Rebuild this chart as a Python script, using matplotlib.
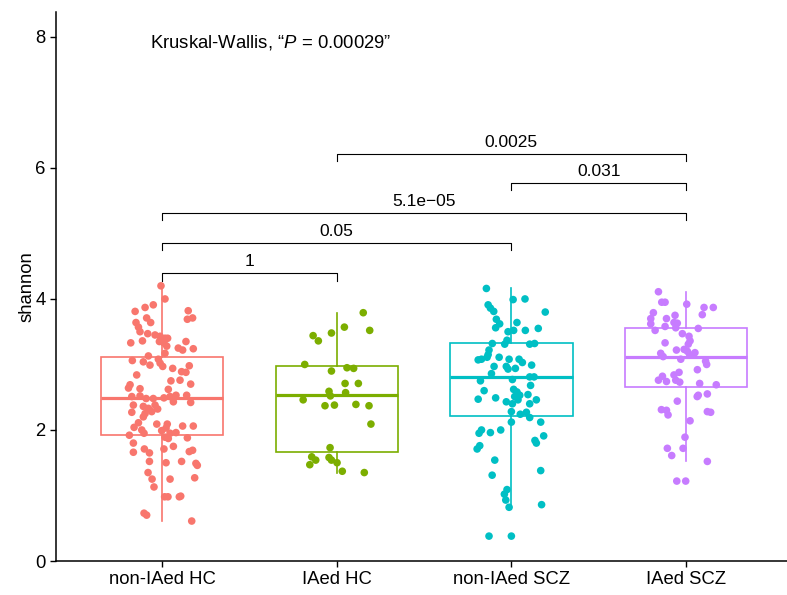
import matplotlib
matplotlib.use("Agg")
import matplotlib.pyplot as plt

plt.rcParams["font.family"] = ["Liberation Sans", "DejaVu Sans"]
plt.rcParams["mathtext.fontset"] = "custom"
plt.rcParams["mathtext.rm"] = "Liberation Sans"
plt.rcParams["mathtext.it"] = "Liberation Sans:italic"

groups = ["non-IAed HC", "IAed HC", "non-IAed SCZ", "IAed SCZ"]
colors = ["#F8766D", "#7CAE00", "#00BFC4", "#C77CFF"]

# shannon values, with the horizontal jitter of each dot
hc_non_y = [4.20, 4.00, 3.87, 3.91, 3.81, 3.82, 3.69, 3.71, 3.64, 3.57, 3.50, 3.71, 3.64,
            3.47, 3.45, 3.43, 3.40, 3.40, 3.35, 3.33, 3.28, 3.36, 3.33, 3.35,
            3.25, 3.22, 3.24, 3.17, 3.13, 3.04, 3.08, 2.99, 3.02, 3.06, 2.97, 2.94, 2.98, 2.89, 2.88,
            2.84, 2.75, 2.76, 2.70, 2.69, 2.64, 2.63, 2.62, 2.51, 2.52, 2.48, 2.48, 2.49, 2.51, 2.53,
            2.53, 2.43, 2.42, 2.38, 2.36, 2.33, 2.38, 2.32, 2.28, 2.25, 2.27, 2.20,
            2.11, 2.04, 2.09, 2.09, 2.03, 2.06, 2.06, 2.00, 1.95, 1.99, 1.95, 1.96, 1.89, 1.87, 1.92, 1.88,
            1.80, 1.75, 1.71, 1.65, 1.71, 1.66, 1.67, 1.69, 1.52, 1.50, 1.52, 1.49, 1.46,
            1.35, 1.25, 1.25, 1.27, 1.13, 0.98, 0.98, 0.98, 0.99, 0.73, 0.70, 0.61]
hc_non_dx = [-0.006, 0.017, -0.097, -0.050, -0.154, 0.150, 0.145, 0.175, -0.149, -0.135, -0.126, -0.088, -0.065,
             -0.082, -0.040, -0.011, 0.017, 0.032, -0.015, 0.011, 0.027, -0.112, -0.179, 0.137,
             0.093, 0.118, 0.179, 0.017, -0.078, -0.107, -0.021, -0.069, -0.011, -0.170, 0.004, 0.061, 0.156, 0.112, 0.137,
             -0.145, 0.051, 0.103, 0.164, -0.183, -0.192, -0.126, 0.036, -0.173, -0.126, -0.091, -0.050, 0.011, 0.046, 0.080,
             0.141, 0.065, 0.164, -0.164, -0.107, -0.078, -0.040, -0.025, -0.059, -0.097, -0.173, -0.107,
             -0.135, -0.160, -0.030, 0.030, 0.023, 0.118, 0.179, -0.116, -0.103, -0.002, 0.046, 0.080, 0.017, 0.036, -0.187, 0.145,
             -0.164, 0.065, -0.101, -0.072, 0.011, -0.164, 0.156, 0.175, -0.072, 0.023, 0.112, 0.194, 0.202,
             -0.080, -0.057, 0.046, 0.187, -0.046, 0.015, 0.034, 0.099, 0.107, -0.103, -0.088, 0.170]

hc_ia_y = [3.79, 3.57, 3.52, 3.44, 3.48, 3.36, 3.00, 2.90, 2.95, 2.94, 2.71, 2.71, 2.59, 2.57, 2.52,
           2.46, 2.37, 2.38, 2.39, 2.37, 2.09, 1.73, 1.59, 1.54, 1.47, 1.58, 1.54, 1.50, 1.37, 1.35]
hc_ia_dx = [0.152, 0.044, 0.189, -0.135, -0.030, -0.105, -0.183, -0.030, 0.059, 0.097, 0.048, 0.124, -0.044, 0.051, -0.036,
            -0.192, -0.067, -0.013, 0.110, 0.185, 0.196, -0.038, -0.143, -0.120, -0.154, -0.044, -0.030, 0.002, 0.032, 0.158]

scz_non_y = [4.16, 3.99, 4.00, 3.91, 3.86, 3.81, 3.80, 3.69, 3.62, 3.64, 3.56, 3.50, 3.52, 3.52, 3.55,
             3.37, 3.31, 3.32, 3.22, 3.31, 3.32, 3.15, 3.07, 3.08, 3.11, 3.11, 3.08, 3.08, 3.03, 2.99,
             2.97, 2.97, 2.93, 2.94, 2.86, 2.81, 2.81, 2.75, 2.77, 2.68, 2.60, 2.62, 2.58, 2.53, 2.54,
             2.51, 2.47, 2.49, 2.43, 2.40, 2.46, 2.46, 2.40, 2.28, 2.24, 2.27, 2.19, 2.12, 2.12,
             2.00, 1.95, 1.96, 2.00, 1.91, 1.84, 1.80, 1.76, 1.71, 1.54, 1.38, 1.31,
             1.09, 1.02, 0.93, 0.82, 0.86, 0.38, 0.38]
scz_non_dx = [-0.143, 0.010, 0.078, -0.133, -0.120, -0.101, 0.194, -0.086, -0.067, 0.032, -0.090, -0.019, 0.013, 0.080, 0.154,
              -0.025, -0.038, -0.109, -0.128, 0.105, 0.133, -0.133, -0.190, -0.171, -0.139, -0.070, -0.013, 0.044, 0.063, 0.116,
              -0.099, -0.029, -0.019, 0.023, -0.114, 0.105, 0.130, -0.177, 0.006, 0.110, -0.156, 0.013, 0.032, 0.048, 0.095,
              0.019, -0.190, -0.090, -0.029, 0.006, 0.038, 0.143, 0.105, 0.000, 0.051, 0.086, 0.105, 0.000, 0.168,
              -0.171, -0.185, -0.120, -0.061, 0.185, 0.135, 0.143, -0.181, -0.196, -0.095, 0.168, -0.110,
              -0.025, -0.040, -0.032, -0.013, 0.173, -0.128, 0.000]

scz_ia_y = [4.11, 3.95, 3.95, 3.92, 3.87, 3.87, 3.79, 3.70, 3.70, 3.75, 3.76, 3.62, 3.58, 3.64, 3.63, 3.56,
            3.52, 3.55, 3.47, 3.43, 3.36, 3.31, 3.33, 3.17, 3.12, 3.22, 3.23, 3.20, 3.18, 3.15, 3.08,
            3.05, 3.00, 2.92, 2.82, 2.76, 2.74, 2.84, 2.88, 2.76, 2.73, 2.71, 2.69, 2.53, 2.51, 2.55,
            2.44, 2.31, 2.30, 2.23, 2.28, 2.27, 2.14, 1.89, 1.72, 1.72, 1.61, 1.52, 1.22, 1.22]
scz_ia_dx = [-0.158, -0.139, -0.120, 0.004, 0.103, 0.156, -0.187, -0.202, -0.112, -0.063, 0.093, -0.202, -0.120, -0.069, -0.050, -0.059,
             -0.177, 0.070, -0.021, 0.017, 0.023, 0.013, -0.120, -0.145, -0.131, -0.055, -0.011, 0.008, 0.051, 0.021, -0.030,
             0.112, 0.118, 0.065, -0.135, -0.158, -0.112, -0.069, -0.040, -0.059, -0.036, 0.078, 0.173, 0.070, 0.064, 0.122,
             -0.050, -0.141, -0.112, -0.103, 0.122, 0.141, 0.023, -0.006, -0.107, -0.017, -0.082, 0.122, -0.053, -0.002]

values = [hc_non_y, hc_ia_y, scz_non_y, scz_ia_y]
jitter = [hc_non_dx, hc_ia_dx, scz_non_dx, scz_ia_dx]

# box statistics as drawn (outliers are only shown as jitter dots)
q1 = [1.93, 1.66, 2.21, 2.66]
med = [2.49, 2.53, 2.81, 3.11]
q3 = [3.12, 2.98, 3.32, 3.55]
whis_lo = [0.61, 1.35, 0.80, 1.52]
whis_hi = [4.20, 3.79, 4.16, 4.10]

# pairwise comparisons: (group a, group b, bracket height, label)
pairs = [(1, 2, 4.39, "1"), (1, 3, 4.85, "0.05"), (1, 4, 5.31, "5.1e\u221205"),
         (3, 4, 5.77, "0.031"), (2, 4, 6.22, "0.0025")]

fig = plt.figure(figsize=(7.87, 5.95), dpi=100)
ax = fig.add_axes([56 / 787, 34 / 595, 1 - 56 / 787, (561 - 12) / 595])

for i in range(4):
    pos = i + 1
    stats = [{"q1": q1[i], "med": med[i], "q3": q3[i], "whislo": whis_lo[i], "whishi": whis_hi[i], "fliers": []}]
    c = colors[i]
    ax.bxp(stats, positions=[pos], widths=0.7, showcaps=False, showfliers=False, patch_artist=True,
           boxprops=dict(facecolor="white", edgecolor=c, linewidth=1.2),
           whiskerprops=dict(color=c, linewidth=1.2),
           medianprops=dict(color=c, linewidth=2.3), zorder=2)
    xs = [pos + d for d in jitter[i]]
    ax.scatter(xs, values[i], s=30, color=c, edgecolors="none", zorder=3)

for a, b, h, lab in pairs:
    ax.plot([a, a, b, b], [h - 0.11, h, h, h - 0.11], color="black", lw=0.8, zorder=4)
    ax.text((a + b) / 2, h + 0.06, lab, ha="center", va="bottom", fontsize=12.5)

ax.text(0.931, 7.92, "Kruskal-Wallis, \u201c$P$ = 0.00029\u201d", ha="left", va="center", fontsize=13.3)

ax.set_xlim(0.393, 4.578)
ax.set_ylim(0, 8.38)
ax.set_xticks([1, 2, 3, 4])
ax.set_xticklabels(groups)
ax.set_yticks([0, 2, 4, 6, 8])
ax.set_ylabel("shannon", fontsize=13.3)
ax.yaxis.set_label_coords(-20 / 731, 0.5)
ax.tick_params(axis="both", labelsize=13.3, length=4, width=1.0, color="black")
for side in ["top", "right"]:
    ax.spines[side].set_visible(False)
for side in ["left", "bottom"]:
    ax.spines[side].set_linewidth(1.1)

fig.savefig("out.png", dpi=100)
